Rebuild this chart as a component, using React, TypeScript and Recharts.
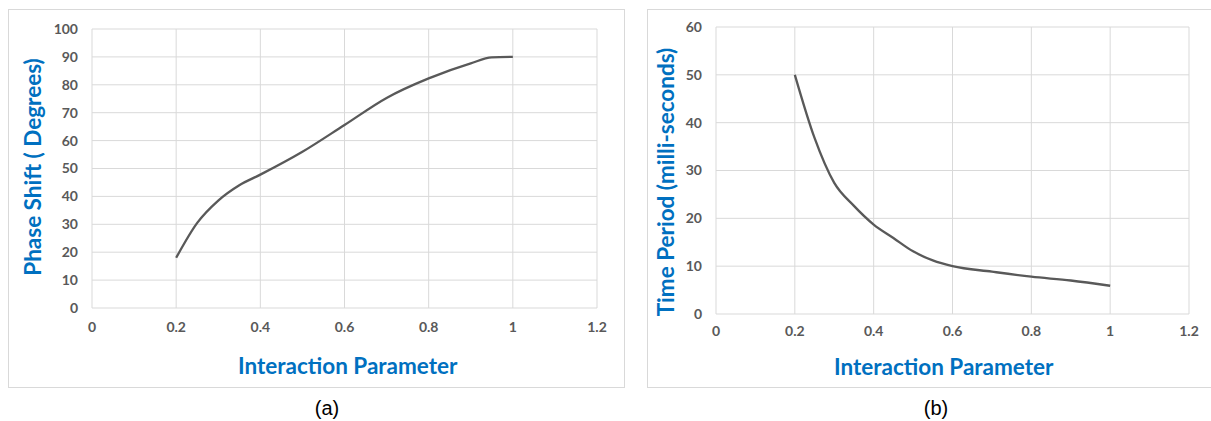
import React from 'react';
import { LineChart, Line, XAxis, YAxis, CartesianGrid, Label } from 'recharts';

// ---- Data ----
const phaseX = [0.2, 0.25, 0.3, 0.35, 0.4, 0.5, 0.6, 0.7, 0.8, 0.9, 0.95, 1.0];
const phaseY = [18, 30.5, 38.5, 44, 47.8, 56, 65.6, 75.3, 82.3, 87.7, 89.8, 90];

const periodX = [0.2, 0.25, 0.3, 0.35, 0.4, 0.45, 0.5, 0.55, 0.6, 0.7, 0.8, 0.9, 1.0];
const periodY = [50, 36.8, 27.4, 22.6, 18.7, 15.9, 13.1, 11.2, 10, 8.85, 7.8, 7, 5.9];

const xTicks = [0, 0.2, 0.4, 0.6, 0.8, 1, 1.2];
const phaseTicks = [0, 10, 20, 30, 40, 50, 60, 70, 80, 90, 100];
const periodTicks = [0, 10, 20, 30, 40, 50, 60];

const xTitle = 'Interaction Parameter';
const phaseTitle = 'Phase Shift ( Degrees)';
const periodTitle = 'Time Period (milli-seconds)';
const captions = ['(a)', '(b)'];

const phaseData = phaseX.map((x, i) => ({ x, y: phaseY[i] }));
const periodData = periodX.map((x, i) => ({ x, y: periodY[i] }));

const GRID = '#d9d9d9';
const LINE = '#595959';
const TITLE = '#0070C0';
const tickStyle = { fill: '#595959', fontSize: 14, fontWeight: 700, fontFamily: 'Lato' };
const titleStyle: React.CSSProperties = { fill: TITLE, fontSize: 22.5, fontWeight: 700, fontFamily: 'Lato' };

function YTitle(text: string, cx: number, cy: number) {
  return () => (
    <text
      x={cx}
      y={cy}
      transform={`rotate(-90, ${cx}, ${cy})`}
      textAnchor="middle"
      dominantBaseline="central"
      style={titleStyle}
    >
      {text}
    </text>
  );
}

function XTitle(text: string, cx: number, cy: number) {
  return () => (
    <text x={cx} y={cy} textAnchor="middle" dominantBaseline="central" style={titleStyle}>
      {text}
    </text>
  );
}

const boxStyle = (left: number, top: number, width: number, height: number): React.CSSProperties => ({
  position: 'absolute',
  left,
  top,
  width,
  height,
  boxSizing: 'border-box',
  border: `1.5px solid ${GRID}`,
  background: '#fff',
});

export default function App() {
  return (
    <div style={{ position: 'absolute', left: 0, top: 0, width: 1211, height: 421, background: '#fff', overflow: 'hidden' }}>
      {/* Chart (a) */}
      <div style={boxStyle(8, 9, 617, 379)} />
      <div style={{ position: 'absolute', left: 8, top: 9 }}>
        <LineChart width={617} height={379} data={phaseData} margin={{ top: 20, right: 28, bottom: 0, left: 0 }}>
          <CartesianGrid stroke={GRID} strokeWidth={1} />
          <XAxis
            type="number"
            dataKey="x"
            domain={[0, 1.2]}
            ticks={xTicks}
            axisLine={false}
            tickLine={false}
            tick={tickStyle}
            tickMargin={8}
            height={80}
            interval={0}
          >
            <Label content={XTitle(xTitle, 339.7, 356.5)} />
          </XAxis>
          <YAxis
            type="number"
            domain={[0, 100]}
            ticks={phaseTicks}
            axisLine={false}
            tickLine={false}
            tick={tickStyle}
            tickMargin={8}
            width={84}
            interval={0}
          >
            <Label content={YTitle(phaseTitle, 24.3, 158)} />
          </YAxis>
          <Line type="monotone" dataKey="y" stroke={LINE} strokeWidth={2.3} dot={false} isAnimationActive={false} />
        </LineChart>
      </div>

      {/* Chart (b) */}
      <div style={boxStyle(647, 9, 570, 379)} />
      <div style={{ position: 'absolute', left: 647, top: 9 }}>
        <LineChart width={564} height={379} data={periodData} margin={{ top: 18, right: 22, bottom: 0, left: 0 }}>
          <CartesianGrid stroke={GRID} strokeWidth={1} />
          <XAxis
            type="number"
            dataKey="x"
            domain={[0, 1.2]}
            ticks={xTicks}
            axisLine={false}
            tickLine={false}
            tick={tickStyle}
            tickMargin={6}
            height={74}
            interval={0}
          >
            <Label content={XTitle(xTitle, 296.7, 357)} />
          </XAxis>
          <YAxis
            type="number"
            domain={[0, 60]}
            ticks={periodTicks}
            axisLine={false}
            tickLine={false}
            tick={tickStyle}
            tickMargin={8}
            width={69}
            interval={0}
          >
            <Label content={YTitle(periodTitle, 18, 173)} />
          </YAxis>
          <Line type="monotone" dataKey="y" stroke={LINE} strokeWidth={2.3} dot={false} isAnimationActive={false} />
        </LineChart>
      </div>

      {/* Captions */}
      <div style={{ position: 'absolute', left: 327 - 30, top: 396, width: 60, textAlign: 'center', fontFamily: 'Liberation Sans, Arial', fontSize: 20, lineHeight: '24px', color: '#000' }}>
        {captions[0]}
      </div>
      <div style={{ position: 'absolute', left: 936 - 30, top: 396, width: 60, textAlign: 'center', fontFamily: 'Liberation Sans, Arial', fontSize: 20, lineHeight: '24px', color: '#000' }}>
        {captions[1]}
      </div>
    </div>
  );
}
